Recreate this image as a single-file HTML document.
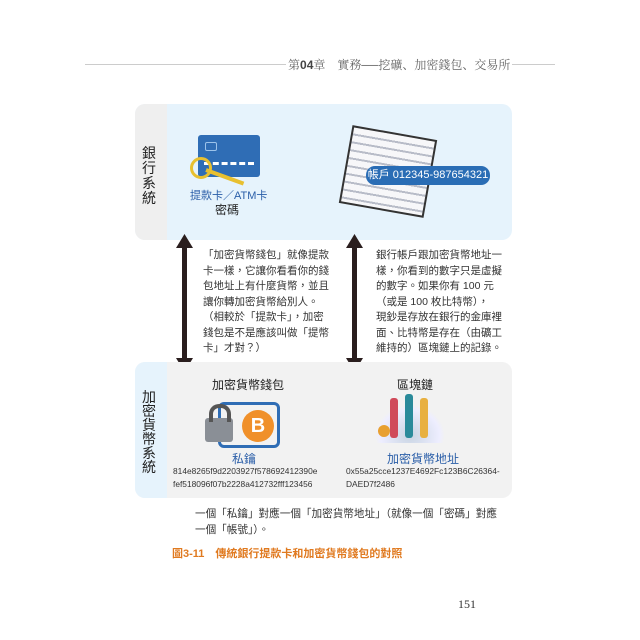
<!DOCTYPE html>
<html><head><meta charset="utf-8"><style>
body{margin:0;width:640px;height:640px;background:#fff;position:relative;overflow:hidden;font-family:"Liberation Sans","Noto Sans CJK TC",sans-serif;}
.a{position:absolute;}
.t{font-size:10.5px;line-height:15.5px;color:#333;white-space:nowrap;}
</style></head><body>
<div class="a" style="left:85px;top:64px;width:470px;height:1px;background:#ccc"></div>
<div class="a" style="left:286px;top:56px;background:#fff;padding:0 2px;font-size:12px;color:#666;font-family:'Liberation Serif','Noto Serif CJK SC',serif">第<b style="font-family:'Liberation Sans';color:#444">04</b>章　實務──挖礦、加密錢包、交易所</div>

<div class="a" style="left:135px;top:104px;width:377px;height:136px;background:#e6f3fc;border-radius:10px;overflow:hidden">
 <div class="a" style="left:0;top:0;width:32px;height:136px;background:#efefef"></div>
</div>
<div class="a" style="left:142px;top:146px;width:16px;font-size:14px;line-height:15px;color:#222">銀行系統</div>
<div class="a" style="left:198px;top:135px;width:62px;height:42px;background:#2f6db5;border-radius:3px"></div>
<div class="a" style="left:205px;top:142px;width:10px;height:7px;border:1px solid #9cc3ea;border-radius:2px"></div>
<div class="a" style="left:204px;top:162px;width:50px;height:3px;border-top:3px dashed #fff"></div>
<div class="a" style="left:190px;top:157px;width:16px;height:16px;border:3px solid #e8c030;border-radius:50%"></div>
<div class="a" style="left:206px;top:168px;width:40px;height:4px;background:#e8c030;transform:rotate(20deg);transform-origin:left"></div>
<div class="a" style="left:190px;top:187px;font-size:11px;color:#2a5ea8">提款卡／ATM卡</div>
<div class="a" style="left:215px;top:201px;font-size:12px;color:#222">密碼</div>
<div class="a" style="left:345px;top:132px;width:82px;height:75px;background:#f7f7f9;border:2px solid #333;transform:rotate(10deg);background-image:repeating-linear-gradient(#f7f7f9 0 6px,#b8bcc8 6px 8px)"></div>
<div class="a" style="left:366px;top:166px;width:124px;height:19px;background:#2a6db5;border-radius:9px;color:#fff;font-size:11px;line-height:19px;text-align:center">帳戶 012345-987654321</div>

<svg class="a" style="left:0;top:0" width="640" height="640">
 <g fill="#2a1e1e"><rect x="182" y="245" width="5" height="118"/><polygon points="184.5,234 176,248 193,248"/><polygon points="184.5,372 176,358 193,358"/>
 <rect x="352" y="245" width="5" height="118"/><polygon points="354.5,234 346,248 363,248"/><polygon points="354.5,372 346,358 363,358"/></g>
</svg>
<div class="a t" style="left:203px;top:248px">「加密貨幣錢包」就像提款<br>卡一樣，它讓你看看你的錢<br>包地址上有什麼貨幣，並且<br>讓你轉加密貨幣給別人。<br>（相較於「提款卡」，加密<br>錢包是不是應該叫做「提幣<br>卡」才對？）</div>
<div class="a t" style="left:376px;top:248px">銀行帳戶跟加密貨幣地址一<br>樣，你看到的數字只是虛擬<br>的數字。如果你有 100 元<br>（或是 100 枚比特幣），<br>現鈔是存放在銀行的金庫裡<br>面、比特幣是存在（由礦工<br>維持的）區塊鏈上的記錄。</div>

<div class="a" style="left:135px;top:362px;width:377px;height:136px;background:#f2f2f2;border-radius:10px;overflow:hidden">
 <div class="a" style="left:0;top:0;width:32px;height:136px;background:#e6f3fc"></div>
</div>
<div class="a" style="left:142px;top:390px;width:16px;font-size:14px;line-height:14px;color:#222">加密貨幣系統</div>
<div class="a" style="left:212px;top:376px;font-size:12px;color:#222">加密貨幣錢包</div>
<div class="a" style="left:397px;top:376px;font-size:12px;color:#222">區塊鏈</div>
<div class="a" style="left:218px;top:402px;width:56px;height:40px;border:3px solid #2f6db5;border-radius:6px"></div>
<div class="a" style="left:205px;top:418px;width:28px;height:24px;background:#8a8f96;border-radius:3px"></div>
<div class="a" style="left:209px;top:404px;width:14px;height:14px;border:4px solid #555;border-bottom:none;border-radius:10px 10px 0 0"></div>
<div class="a" style="left:242px;top:410px;width:32px;height:32px;background:#f0902a;border-radius:50%;color:#fff;font-weight:bold;font-size:20px;line-height:32px;text-align:center">B</div>
<div class="a" style="left:232px;top:450px;font-size:12px;color:#2a5ea8">私鑰</div>
<div class="a" style="left:173px;top:465px;font-size:8.4px;line-height:13px;color:#333">814e8265f9d2203927f578692412390e<br>fef518096f07b2228a412732fff123456</div>
<div class="a" style="left:375px;top:405px;width:70px;height:38px;background:radial-gradient(ellipse at 50% 80%,#c8d4e2 0,#eef 60%,transparent 70%)"></div>
<div class="a" style="left:390px;top:398px;width:8px;height:40px;background:#d04a5a;border-radius:3px"></div>
<div class="a" style="left:405px;top:394px;width:8px;height:44px;background:#2a8a9a;border-radius:3px"></div>
<div class="a" style="left:420px;top:398px;width:8px;height:40px;background:#e8b040;border-radius:3px"></div>
<div class="a" style="left:378px;top:425px;width:12px;height:12px;background:#e8a030;border-radius:50%"></div>
<div class="a" style="left:387px;top:450px;font-size:12px;color:#2a5ea8">加密貨幣地址</div>
<div class="a" style="left:346px;top:465px;font-size:8.4px;line-height:13px;color:#333">0x55a25cce1237E4692Fc123B6C26364-<br>DAED7f2486</div>

<div class="a t" style="left:195px;top:506px;line-height:16px;font-size:10.6px">一個「私鑰」對應一個「加密貨幣地址」（就像一個「密碼」對應<br>一個「帳號」）。</div>
<div class="a" style="left:172px;top:545px;font-size:11px;color:#e07a20;font-weight:bold">圖3-11　傳統銀行提款卡和加密貨幣錢包的對照</div>
<div class="a" style="left:458px;top:597px;font-size:12px;color:#333;font-family:'Liberation Serif',serif">151</div>
</body></html>
